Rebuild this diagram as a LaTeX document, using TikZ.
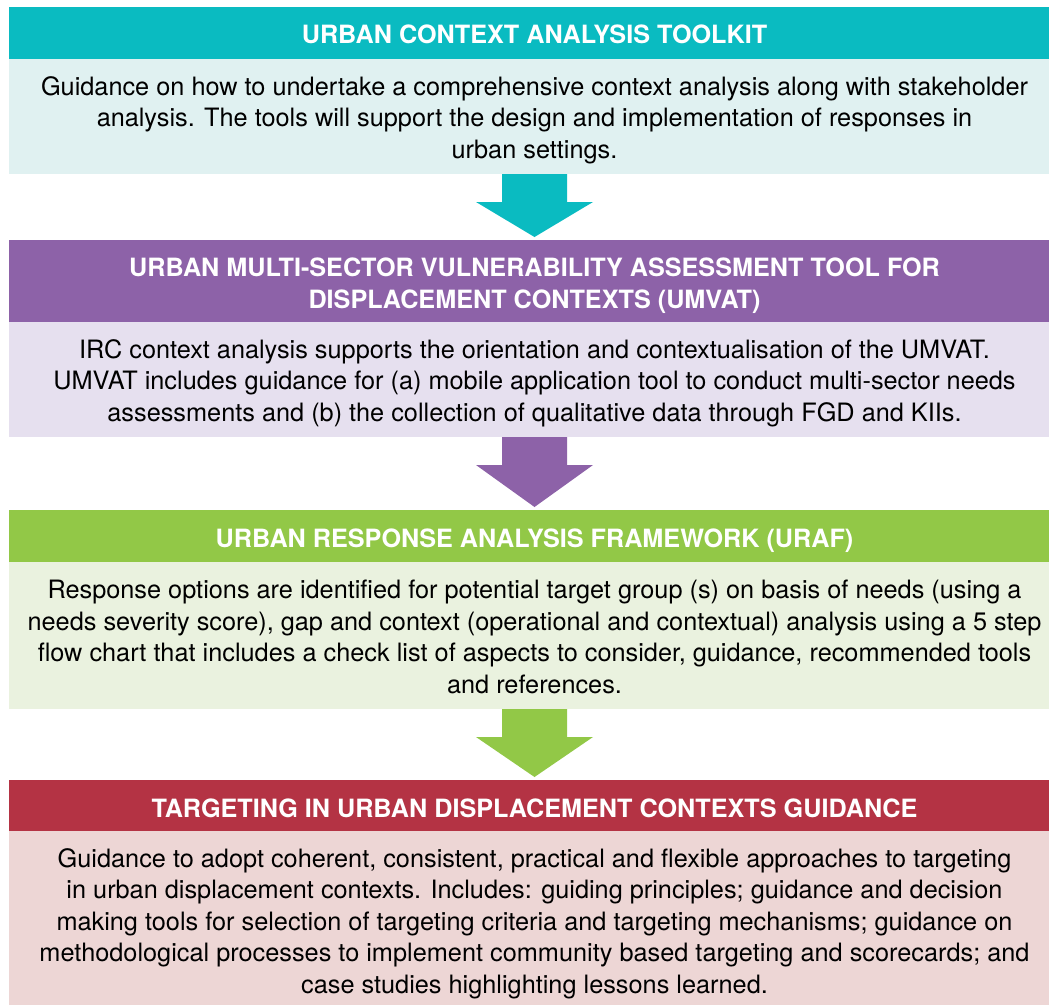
\documentclass[tikz,border=0pt]{standalone}
\usepackage{fontspec}
\setmainfont{TeX Gyre Heros}
\usetikzlibrary{calc}
\definecolor{tealH}{HTML}{0ABBC1}
\definecolor{tealB}{HTML}{E0F1F1}
\definecolor{purpH}{HTML}{8D62A8}
\definecolor{purpB}{HTML}{E6E0EF}
\definecolor{grnH}{HTML}{92C847}
\definecolor{grnB}{HTML}{EAF2DF}
\definecolor{redH}{HTML}{B43344}
\definecolor{redB}{HTML}{EDD6D5}
\tikzset{
  band/.style={rectangle, inner sep=0pt, outer sep=0pt, minimum width=1051pt},
  headtxt/.style={anchor=base, inner sep=0pt, align=center, text=white, font=\fontsize{25.2}{32}\selectfont\bfseries},
  bodytxt/.style={anchor=base, inner sep=0pt, align=center, text=black, font=\fontsize{25.3}{31.5}\selectfont},
}
\newcommand{\flowarrow}[3]{%
  \fill[#3] ($(#1.south)+(-32.5,0)$) -- ($(#1.south)+(32.5,0)$) -- ($(#1.south)+(32.5,28)$)
     -- ($(#1.south)+(58.5,28)$) -- ($(#2.north)+(0,-3)$) -- ($(#1.south)+(-58.5,28)$)
     -- ($(#1.south)+(-32.5,28)$) -- cycle;}
\begin{document}
\begin{tikzpicture}[x=1pt,y=-1pt]
\useasboundingbox (0,0) rectangle (1049,1005);
% block 1
\node[band, fill=tealH, minimum height=52pt] (h1) at (534.5,33) {};
\node[band, fill=tealB, minimum height=115pt] (b1) at (534.5,116.5) {};
\node[headtxt] (t1) at (534.5,43) {URBAN CONTEXT ANALYSIS TOOLKIT};
\node[bodytxt] (d1) at (534.5,158) {Guidance on how to undertake a comprehensive context analysis along with stakeholder\\analysis. The tools will support the design and implementation of responses in\\urban settings.};
% block 2
\node[band, fill=purpH, minimum height=82pt] (h2) at (534.5,281) {};
\node[band, fill=purpB, minimum height=115pt] (b2) at (534.5,379.5) {};
\node[headtxt] (t2) at (534.5,308) {URBAN MULTI-SECTOR VULNERABILITY ASSESSMENT TOOL FOR\\DISPLACEMENT CONTEXTS (UMVAT)};
\node[bodytxt] (d2) at (534.5,421) {IRC context analysis supports the orientation and contextualisation of the UMVAT.\\UMVAT includes guidance for (a) mobile application tool to conduct multi-sector needs\\assessments and (b) the collection of qualitative data through FGD and KIIs.};
% block 3
\node[band, fill=grnH, minimum height=52pt] (h3) at (534.5,536) {};
\node[band, fill=grnB, minimum height=147pt] (b3) at (534.5,635.5) {};
\node[headtxt] (t3) at (534.5,547) {URBAN RESPONSE ANALYSIS FRAMEWORK (URAF)};
\node[bodytxt] (d3) at (534.5,693) {Response options are identified for potential target group (s) on basis of needs (using a\\needs severity score), gap and context (operational and contextual) analysis using a 5 step\\flow chart that includes a check list of aspects to consider, guidance, recommended tools\\and references.};
% block 4
\node[band, fill=redH, minimum height=51pt] (h4) at (534.5,805.5) {};
\node[band, fill=redB, minimum height=174pt] (b4) at (534.5,918) {};
\node[headtxt] (t4) at (534.5,817) {TARGETING IN URBAN DISPLACEMENT CONTEXTS GUIDANCE};
\node[bodytxt] (d4) at (534.5,993) {Guidance to adopt coherent, consistent, practical and flexible approaches to targeting\\in urban displacement contexts. Includes: guiding principles; guidance and decision\\making tools for selection of targeting criteria and targeting mechanisms; guidance on\\methodological processes to implement community based targeting and scorecards; and\\case studies highlighting lessons learned.};
% arrows
\flowarrow{b1}{h2}{tealH}
\flowarrow{b2}{h3}{purpH}
\flowarrow{b3}{h4}{grnH}
\end{tikzpicture}
\end{document}
